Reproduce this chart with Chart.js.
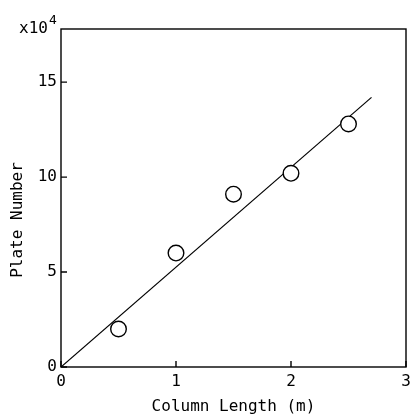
<!DOCTYPE html>
<html>
<head>
<meta charset="utf-8">
<script src="https://cdn.jsdelivr.net/npm/chart.js@4.4.0/dist/chart.umd.min.js"></script>
<style>
html, body { margin: 0; padding: 0; background: #fff; }
#wrap { width: 411px; height: 416px; }
</style>
</head>
<body>
<div id="wrap"><canvas id="plateChart"></canvas></div>
<script>
const columnLength = [0.5, 1.0, 1.5, 2.0, 2.5];
const plateNumber = [2.0, 6.0, 9.1, 10.2, 12.8];
const fitLength = [0, 2.7];
const fitPlates = [0, 14.2];
const xTicks = [0, 1, 2, 3];
const yTicks = [0, 5, 10, 15];

const mono = 'DejaVu Sans Mono';

const framePlugin = {
    id: 'frame',
    afterDraw(chart) {
        const ctx = chart.ctx;
        const a = chart.chartArea;
        const xs = chart.scales.x, ys = chart.scales.y;
        ctx.save();
        ctx.strokeStyle = '#000';
        ctx.lineWidth = 1.4;
        ctx.strokeRect(a.left, a.top, a.right - a.left, a.bottom - a.top);
        ctx.beginPath();
        xTicks.forEach(v => {
            const px = xs.getPixelForValue(v);
            ctx.moveTo(px, a.bottom);
            ctx.lineTo(px, a.bottom - 6);
        });
        yTicks.forEach(v => {
            const py = ys.getPixelForValue(v);
            ctx.moveTo(a.left, py);
            ctx.lineTo(a.left + 6, py);
        });
        ctx.stroke();
        // y title
        ctx.fillStyle = '#000';
        ctx.font = '16px "' + mono + '"';
        ctx.translate(18, 220);
        ctx.rotate(-Math.PI / 2);
        ctx.textAlign = 'center';
        ctx.textBaseline = 'middle';
        ctx.fillText('Plate Number', 0, 0);
        ctx.restore();
        // multiplier
        ctx.save();
        ctx.fillStyle = '#000';
        ctx.font = '16px "' + mono + '"';
        ctx.textBaseline = 'alphabetic';
        ctx.fillText('x10', 19, 33);
        const w = ctx.measureText('x10').width;
        ctx.font = '13px "' + mono + '"';
        ctx.fillText('4', 20 + w, 24);
        ctx.restore();
    }
};

new Chart(document.getElementById('plateChart'), {
    type: 'scatter',
    data: {
        datasets: [
            {
                label: 'data',
                data: columnLength.map((x, i) => ({ x: x, y: plateNumber[i] })),
                pointStyle: 'circle',
                pointRadius: 7.8,
                pointBorderWidth: 1.4,
                pointBorderColor: '#000',
                pointBackgroundColor: '#fff',
                showLine: false,
                order: 0
            },
            {
                label: 'fit',
                data: fitLength.map((x, i) => ({ x: x, y: fitPlates[i] })),
                showLine: true,
                borderColor: '#000',
                borderWidth: 1.2,
                pointRadius: 0,
                order: 1
            }
        ]
    },
    options: {
        responsive: true,
        maintainAspectRatio: false,
        animation: false,
        layout: { autoPadding: false, padding: { top: 29, right: 5, left: 0, bottom: 0 } },
        plugins: {
            legend: { display: false },
            tooltip: { enabled: false }
        },
        scales: {
            x: {
                type: 'linear',
                min: 0,
                max: 3,
                afterBuildTicks: s => { s.ticks = xTicks.map(v => ({ value: v })); },
                afterFit: s => { s.height = 49; s.paddingLeft = 0; s.paddingRight = 0; },
                grid: { display: false, drawTicks: false },
                border: { display: false },
                ticks: { color: '#000', padding: 5, maxRotation: 0, font: { family: mono, size: 16 } },
                title: {
                    display: true,
                    text: 'Column Length (m)',
                    color: '#000',
                    font: { family: mono, size: 16 },
                    padding: { top: 0, bottom: 0 }
                }
            },
            y: {
                type: 'linear',
                min: 0,
                max: 17.8,
                afterBuildTicks: s => { s.ticks = yTicks.map(v => ({ value: v })); },
                afterFit: s => { s.width = 61; },
                grid: { display: false, drawTicks: false },
                border: { display: false },
                ticks: { color: '#000', padding: 4, font: { family: mono, size: 16 } }
            }
        }
    },
    plugins: [framePlugin]
});
</script>
</body>
</html>
